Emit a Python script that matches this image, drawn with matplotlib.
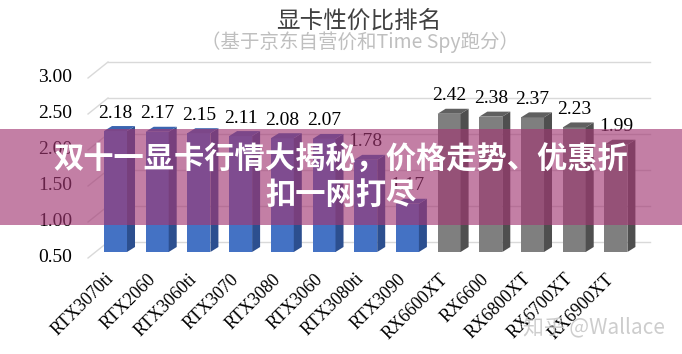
import matplotlib
matplotlib.use("Agg")
import matplotlib.pyplot as plt
from matplotlib.patches import Polygon, Rectangle

cards = ["RTX3070ti", "RTX2060", "RTX3060ti", "RTX3070", "RTX3080", "RTX3060",
         "RTX3080ti", "RTX3090", "RX6600XT", "RX6600", "RX6800XT", "RX6700XT", "RX6900XT"]
scores = [2.18, 2.17, 2.15, 2.11, 2.08, 2.07, 1.78, 1.17, 2.42, 2.38, 2.37, 2.23, 1.99]
vendor = ["nv"] * 8 + ["amd"] * 5
yticks = [0.5, 1.0, 1.5, 2.0, 2.5, 3.0]

title = "显卡性价比排名"
subtitle = "（基于京东自营价和Time Spy跑分）"
banner = "双十一显卡行情大揭秘，价格走势、优惠折\n扣一网打尽"
mark = "知乎 @Wallace"

colors = {
    "nv": ("#4472c4", "#2c4f8f", "#3b64b0"),
    "amd": ("#7f7f7f", "#4f4f4f", "#606060"),
}

serif = ["Liberation Serif", "DejaVu Serif"]
cjk = ["Noto Sans CJK SC", "DejaVu Sans"]

fig = plt.figure(figsize=(6.82, 3.54), dpi=100)
ax = fig.add_axes([0, 0, 1, 1])
# one x unit = 41.7 px, one y unit = 72 px
ax.set_xlim(-2.770, 13.585)
ax.set_ylim(-0.9167, 4.0)
ax.axis("off")

px = 1 / 41.7
py = 1 / 72
back = 10 * py        # back wall shift
front_lbl = -6 * py   # label level
bw = 23 * px / 2
dx, dy = 8 * px, 5 * py
base = 0.5

# grid on back wall with perspective stub on the left
for g in yticks:
    ax.plot([-0.659, -0.18], [g + front_lbl, g + back], color="#d9d9d9", lw=1, zorder=1)
    ax.plot([-0.18, 12.82], [g + back, g + back], color="#d9d9d9", lw=1, zorder=1)
    ax.text(-1.043, g + front_lbl, f"{g:.2f}", ha="right", va="center",
            fontsize=14, family=serif, color="#000000")

for i, (v, k) in enumerate(zip(scores, vendor)):
    fc, sc, tc = colors[k]
    ax.add_patch(Rectangle((i - bw, base), 2 * bw, v - base, fc=fc, ec="none", zorder=3))
    ax.add_patch(Polygon([(i + bw, base), (i + bw + dx, base + dy), (i + bw + dx, v + dy), (i + bw, v)],
                         closed=True, fc=sc, ec="none", zorder=3))
    ax.add_patch(Polygon([(i - bw, v), (i + bw, v), (i + bw + dx, v + dy), (i - bw + dx, v + dy)],
                         closed=True, fc=tc, ec="none", zorder=3))
    ax.text(i, v + 0.25, f"{v:.2f}", ha="center", va="center", fontsize=14,
            family=serif, color="#000000", zorder=4)
    ax.text(i - 0.1, 0.16, cards[i], ha="right", va="center", rotation=45,
            rotation_mode="anchor", fontsize=13, family=serif, color="#000000", zorder=4)

fig.text(359 / 682, 1 - 21 / 354, title, ha="center", va="center", fontsize=17,
         family=cjk, color="#404040")
fig.text(360 / 682, 1 - 42 / 354, subtitle, ha="center", va="center", fontsize=14,
         family=cjk, color="#bfbfbf")

# pink overlay banner
fig.patches.append(Rectangle((0, 1 - 225 / 354), 1, 96 / 354, transform=fig.transFigure,
                             fc="#a23773", alpha=0.64, ec="none", zorder=5))
fig.text(341 / 682, 1 - 177 / 354, banner, ha="center", va="center", fontsize=21.8,
         fontweight="bold", family=cjk, color="white", linespacing=1.12, zorder=6)

fig.text(594 / 682, 1 - 327 / 354, mark, ha="center", va="center", fontsize=15,
         family=cjk, color="#c8c8c8", alpha=0.9, zorder=6)

fig.savefig("out.png", dpi=100)
